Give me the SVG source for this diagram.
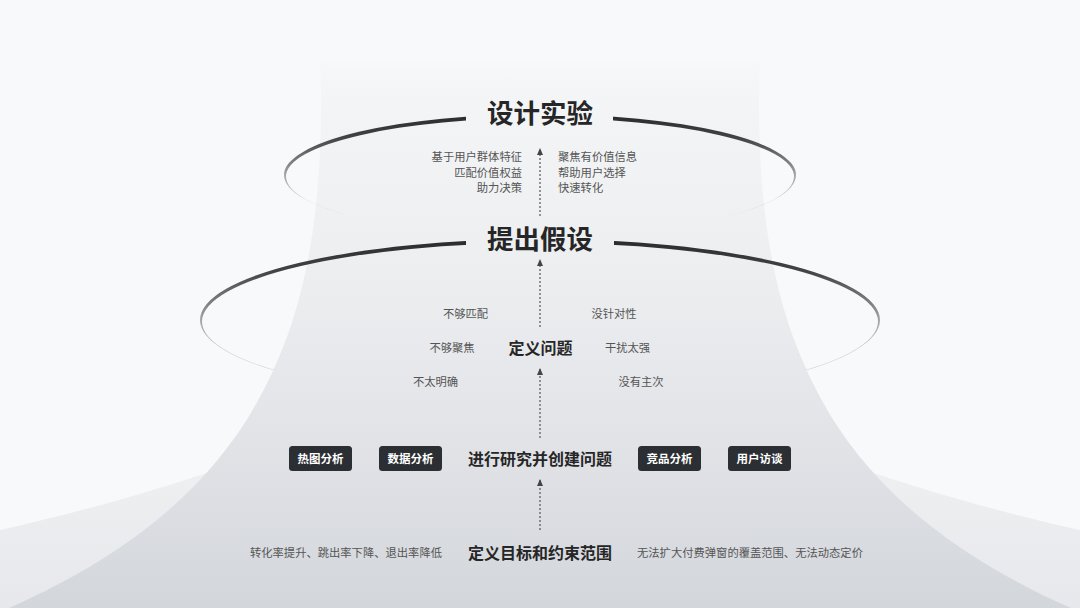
<svg xmlns="http://www.w3.org/2000/svg" width="1080" height="608" viewBox="0 0 1080 608">
<defs>
<style>
.t{font-family:"Noto Sans CJK SC","Noto Sans",sans-serif;}
.h1{font-size:26.5px;font-weight:700;fill:#262626;text-anchor:middle;}
.h2{font-size:16px;font-weight:700;fill:#262626;text-anchor:middle;}
.s{font-size:11.3px;fill:#555;}
.c{font-size:11.5px;font-weight:700;fill:#fff;text-anchor:middle;}
.chip{fill:#2b2e32;}
.dot{stroke:#555;stroke-width:1.2;stroke-dasharray:2 2;fill:none;}
</style>
<linearGradient id="tower" x1="0" y1="55" x2="0" y2="608" gradientUnits="userSpaceOnUse">
<stop offset="0" stop-color="#f8f9fa"/>
<stop offset="0.06" stop-color="#f4f5f7"/>
<stop offset="0.4" stop-color="#eceef0"/>
<stop offset="0.7" stop-color="#e1e3e7"/>
<stop offset="1" stop-color="#d3d6db"/>
</linearGradient>
<linearGradient id="skirt" x1="0" y1="455" x2="0" y2="608" gradientUnits="userSpaceOnUse">
<stop offset="0" stop-color="#eef0f2"/>
<stop offset="1" stop-color="#e6e8eb"/>
</linearGradient>
<linearGradient id="ring1" x1="0" y1="114" x2="0" y2="236" gradientUnits="userSpaceOnUse">
<stop offset="0" stop-color="#2a2a2a"/>
<stop offset="0.2" stop-color="#444"/>
<stop offset="0.4" stop-color="#808080"/>
<stop offset="0.5" stop-color="#a5a5a5"/>
<stop offset="0.68" stop-color="#c8c8c8"/>
<stop offset="0.8" stop-color="#e0e0e0" stop-opacity="0.5"/>
<stop offset="0.87" stop-color="#fff" stop-opacity="0"/>
</linearGradient>
<linearGradient id="ring2" x1="0" y1="239" x2="0" y2="401" gradientUnits="userSpaceOnUse">
<stop offset="0" stop-color="#2a2a2a"/>
<stop offset="0.2" stop-color="#444"/>
<stop offset="0.4" stop-color="#808080"/>
<stop offset="0.5" stop-color="#a5a5a5"/>
<stop offset="0.7" stop-color="#c4c4c4"/>
<stop offset="0.86" stop-color="#d8d8d8"/>
<stop offset="0.96" stop-color="#ebebeb" stop-opacity="0.4"/>
<stop offset="1" stop-color="#fff" stop-opacity="0"/>
</linearGradient>
<mask id="gap1" maskUnits="userSpaceOnUse" x="0" y="0" width="1080" height="608">
<rect x="0" y="0" width="1080" height="608" fill="#fff"/>
<rect x="466" y="90" width="147" height="50" fill="#000"/>
</mask>
<mask id="gap2" maskUnits="userSpaceOnUse" x="0" y="0" width="1080" height="608">
<rect x="0" y="0" width="1080" height="608" fill="#fff"/>
<rect x="466" y="215" width="148" height="50" fill="#000"/>
</mask>
<clipPath id="under2"><rect x="0" y="340" width="1080" height="70"/></clipPath>
<path id="towerShape" d="M320,58 C330,330 260,500 0,612 L1080,612 C820,500 750,330 760,58 Z"/>
<marker id="ah" viewBox="0 0 7 6" refX="6" refY="3" markerWidth="7" markerHeight="6" orient="auto" markerUnits="userSpaceOnUse">
<path d="M0,0 L7,3 L0,6 Z" fill="#444"/>
</marker>
</defs>

<g id="background">
<rect x="0" y="0" width="1080" height="608" fill="#f8f9fa"/>
<path d="M0,530 C80,512 160,490 260,455 L820,455 C920,490 1000,512 1080,530 L1080,608 L0,608 Z" fill="url(#skirt)"/>
<use href="#towerShape" fill="url(#tower)"/>
</g>

<g id="ring-top" mask="url(#gap1)">
<path fill-rule="evenodd" fill="url(#ring1)" d="M284,175 A256,61 0 1 0 796,175 A256,61 0 1 0 284,175 Z M286,176.5 A254,58.5 0 1 0 794,176.5 A254,58.5 0 1 0 286,176.5 Z"/>
</g>
<g id="ring-mid" mask="url(#gap2)">
<path fill-rule="evenodd" fill="url(#ring2)" d="M200,320 A340,81 0 1 0 880,320 A340,81 0 1 0 200,320 Z M202,321.5 A338,78.5 0 1 0 878,321.5 A338,78.5 0 1 0 202,321.5 Z"/>
</g>
<use href="#towerShape" fill="url(#tower)" clip-path="url(#under2)"/>

<g id="connectors">
<line class="dot" x1="540" y1="216" x2="540" y2="149" marker-end="url(#ah)"/>
<line class="dot" x1="540" y1="327" x2="540" y2="260" marker-end="url(#ah)"/>
<line class="dot" x1="540" y1="438" x2="540" y2="369" marker-end="url(#ah)"/>
<line class="dot" x1="540" y1="530" x2="540" y2="480" marker-end="url(#ah)"/>
</g>

<g id="node-design" class="t">
<text class="h1" x="540" y="123">设计实验</text>
<text class="s" x="522" y="161" text-anchor="end">基于用户群体特征</text>
<text class="s" x="522" y="176.5" text-anchor="end">匹配价值权益</text>
<text class="s" x="522" y="192" text-anchor="end">助力决策</text>
<text class="s" x="558" y="161">聚焦有价值信息</text>
<text class="s" x="558" y="176.5">帮助用户选择</text>
<text class="s" x="558" y="192">快速转化</text>
</g>

<g id="node-hypothesis" class="t">
<text class="h1" x="540" y="249">提出假设</text>
</g>

<g id="node-define-problem" class="t">
<text class="h2" x="540.5" y="353.5">定义问题</text>
<text class="s" x="465.5" y="317.5" text-anchor="middle">不够匹配</text>
<text class="s" x="614" y="317.5" text-anchor="middle">没针对性</text>
<text class="s" x="452" y="352" text-anchor="middle">不够聚焦</text>
<text class="s" x="627.5" y="352" text-anchor="middle">干扰太强</text>
<text class="s" x="435.5" y="386" text-anchor="middle">不太明确</text>
<text class="s" x="641" y="386" text-anchor="middle">没有主次</text>
</g>

<g id="node-research" class="t">
<text class="h2" x="540" y="464.5">进行研究并创建问题</text>
</g>
<g id="chip-heatmap" class="t">
<rect class="chip" x="289" y="446" width="63" height="25" rx="3.5"/>
<text class="c" x="320.5" y="462.5">热图分析</text>
</g>
<g id="chip-data" class="t">
<rect class="chip" x="379" y="446" width="63" height="25" rx="3.5"/>
<text class="c" x="410.5" y="462.5">数据分析</text>
</g>
<g id="chip-competitor" class="t">
<rect class="chip" x="638" y="446" width="63" height="25" rx="3.5"/>
<text class="c" x="669.5" y="462.5">竞品分析</text>
</g>
<g id="chip-interview" class="t">
<rect class="chip" x="728" y="446" width="63" height="25" rx="3.5"/>
<text class="c" x="759.5" y="462.5">用户访谈</text>
</g>

<g id="node-goal" class="t">
<text class="h2" x="540" y="558.5">定义目标和约束范围</text>
<text class="s" x="442" y="557" text-anchor="end">转化率提升、跳出率下降、退出率降低</text>
<text class="s" x="637" y="557">无法扩大付费弹窗的覆盖范围、无法动态定价</text>
</g>
</svg>
